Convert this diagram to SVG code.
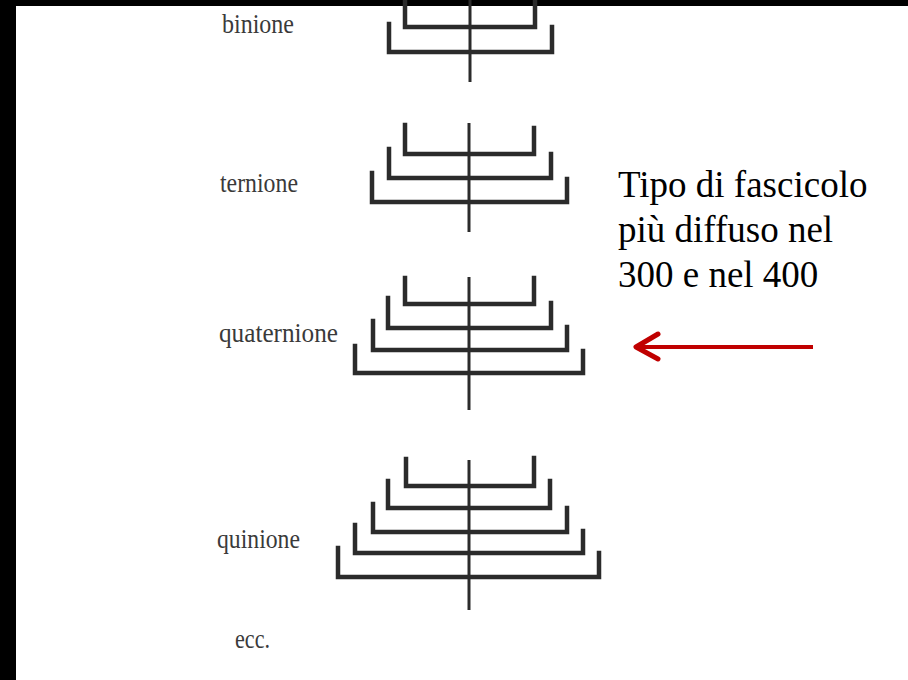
<svg xmlns="http://www.w3.org/2000/svg" width="908" height="680" viewBox="0 0 908 680">
<style>
.br{fill:none;stroke:#2b2b2b;stroke-width:4.5;stroke-linejoin:miter;stroke-linecap:square}
.sp{fill:none;stroke:#2b2b2b;stroke-width:3}
.lbl{font-family:"Liberation Serif",serif;font-size:28px;fill:#3a3a3a}
.note{font-family:"Liberation Serif",serif;font-size:37px;fill:#000}
</style>
<rect x="0" y="0" width="908" height="680" fill="#fff"/>
<rect x="0" y="0" width="908" height="6" fill="#000"/>
<rect x="0" y="0" width="16" height="680" fill="#000"/>

<g id="binione">
<text class="lbl" x="222" y="33" textLength="72" lengthAdjust="spacingAndGlyphs">binione</text>
<line class="sp" x1="470" y1="0" x2="470" y2="82"/>
<path class="br" d="M405 0 V27 H535 V0"/>
<path class="br" d="M389 24 V52 H552 V27"/>
</g>

<g id="ternione">
<text class="lbl" x="220" y="192" textLength="78" lengthAdjust="spacingAndGlyphs">ternione</text>
<line class="sp" x1="469" y1="123" x2="469" y2="232"/>
<path class="br" d="M405 125 V154 H534 V128"/>
<path class="br" d="M389 149 V178 H551 V154"/>
<path class="br" d="M372 173 V202 H567 V179"/>
</g>

<g id="quaternione">
<text class="lbl" x="219" y="342" textLength="119" lengthAdjust="spacingAndGlyphs">quaternione</text>
<line class="sp" x1="469" y1="277" x2="469" y2="410"/>
<path class="br" d="M405 278 V304 H534 V278"/>
<path class="br" d="M388 298 V328 H551 V303"/>
<path class="br" d="M373 321 V350 H567 V327"/>
<path class="br" d="M355 346 V373 H583 V351"/>
</g>

<g id="quinione">
<text class="lbl" x="217" y="548" textLength="83" lengthAdjust="spacingAndGlyphs">quinione</text>
<line class="sp" x1="469" y1="460" x2="469" y2="610"/>
<path class="br" d="M406 459 V486 H534 V458"/>
<path class="br" d="M388 481 V508 H550 V481"/>
<path class="br" d="M373 504 V532 H567 V508"/>
<path class="br" d="M355 525 V553 H583 V531"/>
<path class="br" d="M338 548 V577 H599 V553"/>
</g>

<g id="ecc">
<text class="lbl" x="235" y="648" textLength="35" lengthAdjust="spacingAndGlyphs">ecc.</text>
</g>

<g id="note">
<text class="note" x="618" y="197">Tipo di fascicolo</text>
<text class="note" x="618" y="242">più diffuso nel</text>
<text class="note" x="618" y="287">300 e nel 400</text>
</g>

<g id="connectors">
<line x1="636" y1="347" x2="813" y2="347" stroke="#c00000" stroke-width="4"/>
<polyline points="658,334 636,347 658,359" fill="none" stroke="#c00000" stroke-width="5" stroke-linecap="round" stroke-linejoin="round"/>
</g>
</svg>
